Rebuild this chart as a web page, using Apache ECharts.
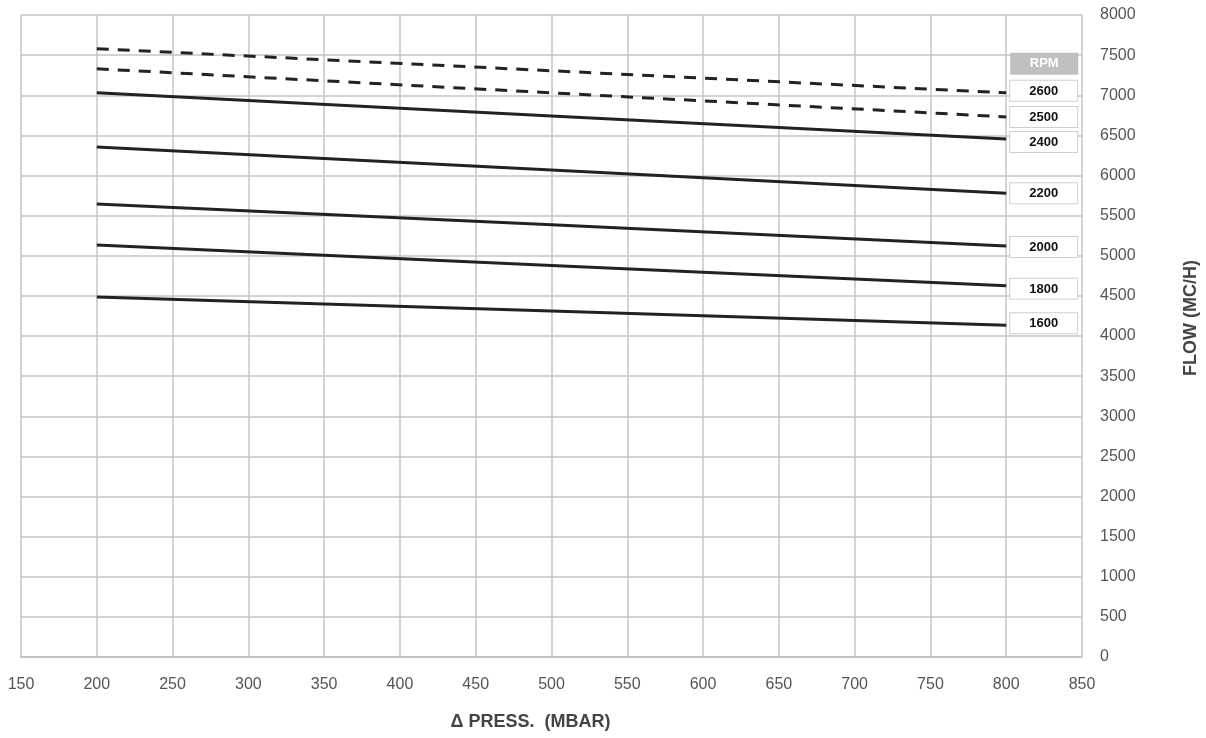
<!DOCTYPE html>
<html>
<head>
<meta charset="utf-8">
<script src="https://cdn.jsdelivr.net/npm/echarts@6/dist/echarts.min.js"></script>
<style>
  html, body { margin: 0; padding: 0; background: #fff; }
  #chart { width: 1206px; height: 738px; }
</style>
</head>
<body>
<div id="chart"></div>
<script>
// Pressure difference (mbar) at which flow was measured
const pressure = [200, 500, 800];
// Flow (m3/h) per fan speed
const rpmNames = ['2600', '2500', '2400', '2200', '2000', '1800', '1600'];
const flow2600 = [7580, 7305, 7030];
const flow2500 = [7330, 7030, 6730];
const flow2400 = [7030, 6740, 6455];
const flow2200 = [6355, 6070, 5780];
const flow2000 = [5645, 5385, 5120];
const flow1800 = [5135, 4880, 4625];
const flow1600 = [4485, 4310, 4135];
const flows = [flow2600, flow2500, flow2400, flow2200, flow2000, flow1800, flow1600];
const dashed = ['2600', '2500'];
// small vertical nudges so the end boxes do not collide
const labelNudge = { '2600': -2, '2500': 0, '2400': 3, '2200': 0, '2000': 1, '1800': 3, '1600': -2 };

const FONT = '"Liberation Sans Narrow", "Liberation Sans", Arial, sans-serif';
const chart = echarts.init(document.getElementById('chart'));

const series = rpmNames.map((name, i) => ({
  name: name,
  type: 'line',
  data: pressure.map((p, j) => [p, flows[i][j]]),
  symbol: 'none',
  silent: true,
  lineStyle: {
    color: '#222',
    width: 3,
    type: dashed.includes(name) ? [12, 9] : 'solid'
  },
  endLabel: {
    show: true,
    distance: 4,
    offset: [0, labelNudge[name]],
    formatter: '{b|{a}}',
    backgroundColor: '#fff',
    borderColor: '#cfcfcf',
    borderWidth: 1,
    padding: [4, 0, 3, 0],
    rich: {
      b: { width: 67, align: 'center', fontFamily: FONT, fontSize: 13, fontWeight: 'bold', color: '#111' }
    }
  }
}));

chart.setOption({
  animation: false,
  grid: { left: 21, right: 124, top: 15, bottom: 81, containLabel: false, outerBoundsMode: 'none' },
  xAxis: {
    type: 'value',
    min: 150, max: 850, interval: 50,
    name: '\u0394 PRESS.  (MBAR)',
    nameLocation: 'middle',
    nameGap: 56,
    nameTextStyle: { fontFamily: FONT, fontSize: 18, fontWeight: 'bold', color: '#444', padding: [0, 42, 0, 0] },
    axisLine: { show: true, lineStyle: { color: '#c4c4c4', width: 2 } },
    axisTick: { show: false },
    axisLabel: { margin: 20, fontFamily: FONT, fontSize: 16, color: '#555' },
    splitLine: { show: true, lineStyle: { color: '#c4c4c4', width: 1.5 } }
  },
  yAxis: {
    type: 'value',
    position: 'right',
    min: 0, max: 8000, interval: 500,
    name: 'FLOW (MC/H)',
    nameLocation: 'middle',
    nameRotate: 90,
    nameGap: 100,
    nameTextStyle: { fontFamily: FONT, fontSize: 18, fontWeight: 'bold', color: '#444', padding: [0, 0, 0, 36] },
    axisLine: { show: false },
    axisTick: { show: false },
    axisLabel: { margin: 18, align: 'left', fontFamily: FONT, fontSize: 16, color: '#555', formatter: v => String(v) },
    splitLine: { show: true, lineStyle: { color: '#c4c4c4', width: 1.5 } }
  },
  series: series
});

// "RPM" header box above the speed labels
const topEnd = chart.convertToPixel({ gridIndex: 0 }, [800, flow2600[2]]);
chart.setOption({
  graphic: [{
    type: 'group',
    left: topEnd[0] + 4,
    top: topEnd[1] - 40,
    children: [
      { type: 'rect', shape: { x: 0, y: 0, width: 68, height: 22 }, style: { fill: '#c0c0c0' } },
      { type: 'text', x: 34, y: 11, style: { text: 'RPM', fill: '#fff', font: 'bold 13px ' + FONT, align: 'center', verticalAlign: 'middle' } }
    ]
  }]
});
</script>
</body>
</html>
